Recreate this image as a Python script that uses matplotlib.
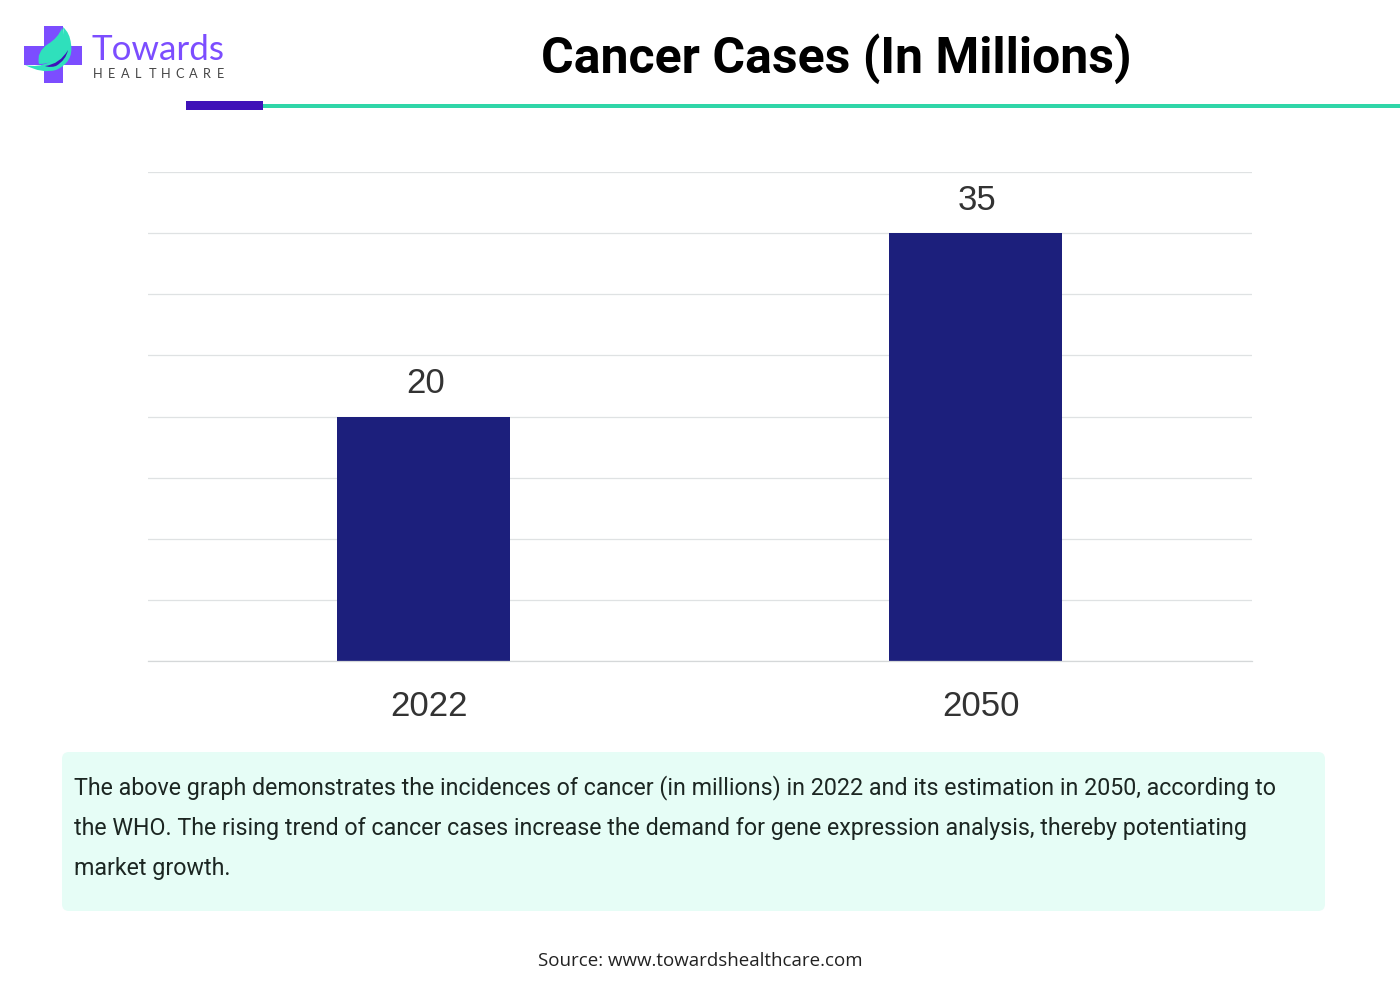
import matplotlib
matplotlib.use('Agg')
import matplotlib.pyplot as plt
from matplotlib.patches import FancyBboxPatch, Rectangle, PathPatch
from matplotlib.path import Path

categories = ['2022', '2050']
values = [20, 35]
y_ticks = [0, 5, 10, 15, 20, 25, 30, 35, 40]
title = 'Cancer Cases (In Millions)'
body_lines = [
    'The above graph demonstrates the incidences of cancer (in millions) in 2022 and its estimation in 2050, according to',
    'the WHO. The rising trend of cancer cases increase the demand for gene expression analysis, thereby potentiating',
    'market growth.',
]
source = 'Source: www.towardshealthcare.com'

W, H = 1400, 997
fig = plt.figure(figsize=(W / 100, H / 100), dpi=100, facecolor='white')

bg = fig.add_axes([0, 0, 1, 1])
bg.set_xlim(0, W)
bg.set_ylim(H, 0)
bg.axis('off')

# Header rule
bg.add_patch(Rectangle((263, 104.5), 1137, 3.5, fc='#2fd6a8', ec='none'))
bg.add_patch(Rectangle((186, 101), 77, 9.5, fc='#3f12b8', ec='none'))

# Logo
C3 = Path.CURVE3
bg.add_patch(Rectangle((43.5, 26.5), 19, 57, fc='#7c4dff', ec='none'))
bg.add_patch(Rectangle((24, 46), 58, 19, fc='#7c4dff', ec='none'))
outer = Path([(25, 65), (42, 74), (56, 70), (74, 62), (71, 44), (70, 33), (63, 27), (66, 50), (50, 62), (38, 68), (25, 65)],
             [Path.MOVETO] + [C3] * 10)
bg.add_patch(PathPatch(outer, fc='#2fe0bc', ec='none'))
dark = Path([(45, 66), (60, 64), (68, 50), (66, 60), (56, 66), (50, 68), (45, 66)],
            [Path.MOVETO] + [C3] * 6)
bg.add_patch(PathPatch(dark, fc='#3f12b8', ec='none'))
leaf = Path([(62, 28), (58, 38), (48, 44), (36, 52), (39, 64), (54, 64), (62, 54), (68, 42), (62, 28)],
            [Path.MOVETO] + [C3] * 8)
bg.add_patch(PathPatch(leaf, fc='#2fe0bc', ec='none'))
bg.text(92, 50, 'Towards', family='Lato', fontsize=25.2, color='#7c4dff', ha='left', va='center')
for i, ch in enumerate('HEALTHCARE'):
    bg.text(97.5 + i * 13.7, 73.5, ch, family='Lato', fontsize=9.2, color='#444444', ha='center', va='center')

# Title
bg.text(836, 59, title, family='Roboto', fontweight='bold', fontsize=36, color='black', ha='center', va='center')

# Description panel
bg.add_patch(FancyBboxPatch((67, 757), 1253, 149, boxstyle='round,pad=5,rounding_size=7', fc='#e6fdf6', ec='none'))
for yy, line in zip([788, 828, 868], body_lines):
    bg.text(74, yy, line, family='Roboto', fontsize=16.75, color='#1c2622', ha='left', va='center')

# Source
bg.text(700, 961, source, family='Open Sans', fontsize=13.5, color='#222222', ha='center', va='center')

# Chart
ax = fig.add_axes([148 / W, 1 - 661 / H, 1104 / W, 489 / H])
ax.set_facecolor('none')
ax.set_xlim(-0.499, 1.501)
ax.set_ylim(0, 40)
ax.set_yticks(y_ticks)
ax.set_axisbelow(True)
ax.grid(axis='y', color='#dfe2e3', lw=0.9)
ax.tick_params(axis='both', length=0)
ax.set_yticklabels([])
for s in ['top', 'left', 'right']:
    ax.spines[s].set_visible(False)
ax.spines['bottom'].set_color('#d5d8d9')
ax.spines['bottom'].set_linewidth(0.9)

x = list(range(len(categories)))
ax.bar(x, values, width=0.3134, color='#1c1f7c')
ax.set_xticks(x)
ax.set_xticklabels([])
for xi, cat in zip(x, categories):
    ax.annotate(cat, (xi, 0), xytext=(5.5, -45.5), textcoords='offset pixels', family='Liberation Sans',
                fontsize=25, color='#333333', ha='center', va='center')
for xi, v in zip(x, values):
    ax.annotate(str(v), (xi, v), xytext=(2, 33), textcoords='offset pixels', family='Liberation Sans',
                fontsize=25, color='#333333', ha='center', va='center')

fig.savefig('out.png', dpi=100)
